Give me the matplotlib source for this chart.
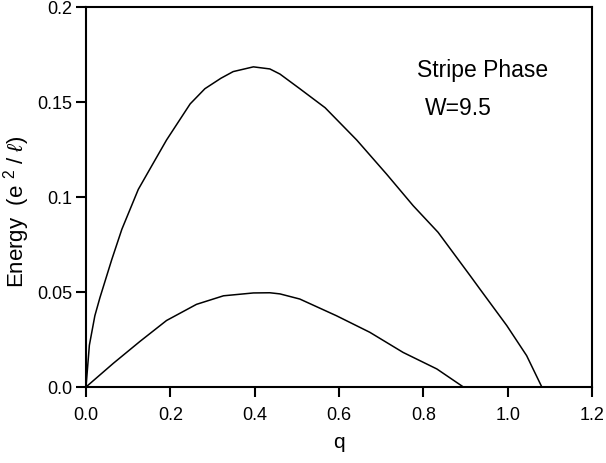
import matplotlib
matplotlib.use("Agg")
import matplotlib.pyplot as plt

plt.rcParams['font.family'] = ['Liberation Sans', 'DejaVu Sans']
plt.rcParams['mathtext.fontset'] = 'custom'
plt.rcParams['mathtext.rm'] = 'Liberation Sans'
plt.rcParams['mathtext.it'] = 'Liberation Sans:italic'

# Upper curve
q_upper = [0.0, 0.008, 0.021, 0.033, 0.061, 0.085, 0.124, 0.16, 0.191, 0.247, 0.282,
           0.32, 0.349, 0.397, 0.436, 0.46, 0.507, 0.567, 0.642, 0.713, 0.776, 0.835,
           0.911, 0.934, 0.998, 1.045, 1.081]
e_upper = [0.0, 0.022, 0.0375, 0.047, 0.067, 0.083, 0.104, 0.118, 0.130, 0.149, 0.157,
           0.1625, 0.166, 0.1685, 0.1674, 0.1647, 0.157, 0.147, 0.130, 0.112, 0.0954, 0.0814,
           0.0586, 0.0516, 0.0323, 0.0165, 0.0]

# Lower curve
q_lower = [0.0, 0.065, 0.128, 0.191, 0.262, 0.326, 0.397, 0.436, 0.46, 0.507,
           0.594, 0.673, 0.752, 0.832, 0.895]
e_lower = [0.0, 0.0125, 0.024, 0.0350, 0.0435, 0.048, 0.0495, 0.0496, 0.049, 0.0463,
           0.0375, 0.0288, 0.0182, 0.0095, 0.0]

xticks = [0.0, 0.2, 0.4, 0.6, 0.8, 1.0, 1.2]
xticklabels = ["0.0", "0.2", "0.4", "0.6", "0.8", "1.0", "1.2"]
yticks = [0.0, 0.05, 0.1, 0.15, 0.2]
yticklabels = ["0.0", "0.05", "0.1", "0.15", "0.2"]

W, H = 606, 464
fig = plt.figure(figsize=(W / 100, H / 100), dpi=100)
ax = fig.add_axes([86 / W, 1 - 388 / H, (592 - 86) / W, (388 - 8) / H])

ax.plot(q_upper, e_upper, color='black', lw=1.1)
ax.plot(q_lower, e_lower, color='black', lw=1.1)

ax.set_xlim(0, 1.2)
ax.set_ylim(0, 0.2)
ax.set_xticks(xticks)
ax.set_xticklabels(xticklabels)
ax.set_yticks(yticks)
ax.set_yticklabels(yticklabels)
ax.tick_params(direction='out', length=7, width=1.5, labelsize=13)
ax.tick_params(axis='x', pad=7)
ax.tick_params(axis='y', pad=3)
for s in ax.spines.values():
    s.set_linewidth(1.5)

fig.text(339 / W, 1 - 443 / H, "q", fontsize=15, ha='center', va='center')
fig.text(17 / W, 1 - 212 / H, r"Energy  (e $^{2}$ / $\ell$)", fontsize=16,
         rotation=90, ha='center', va='center')

fig.text(417 / W, 1 - 77 / H, "Stripe Phase", fontsize=16.5, ha='left', va='baseline')
fig.text(425 / W, 1 - 115 / H, "W=9.5", fontsize=16.5, ha='left', va='baseline')

fig.savefig("out.png", dpi=100)
